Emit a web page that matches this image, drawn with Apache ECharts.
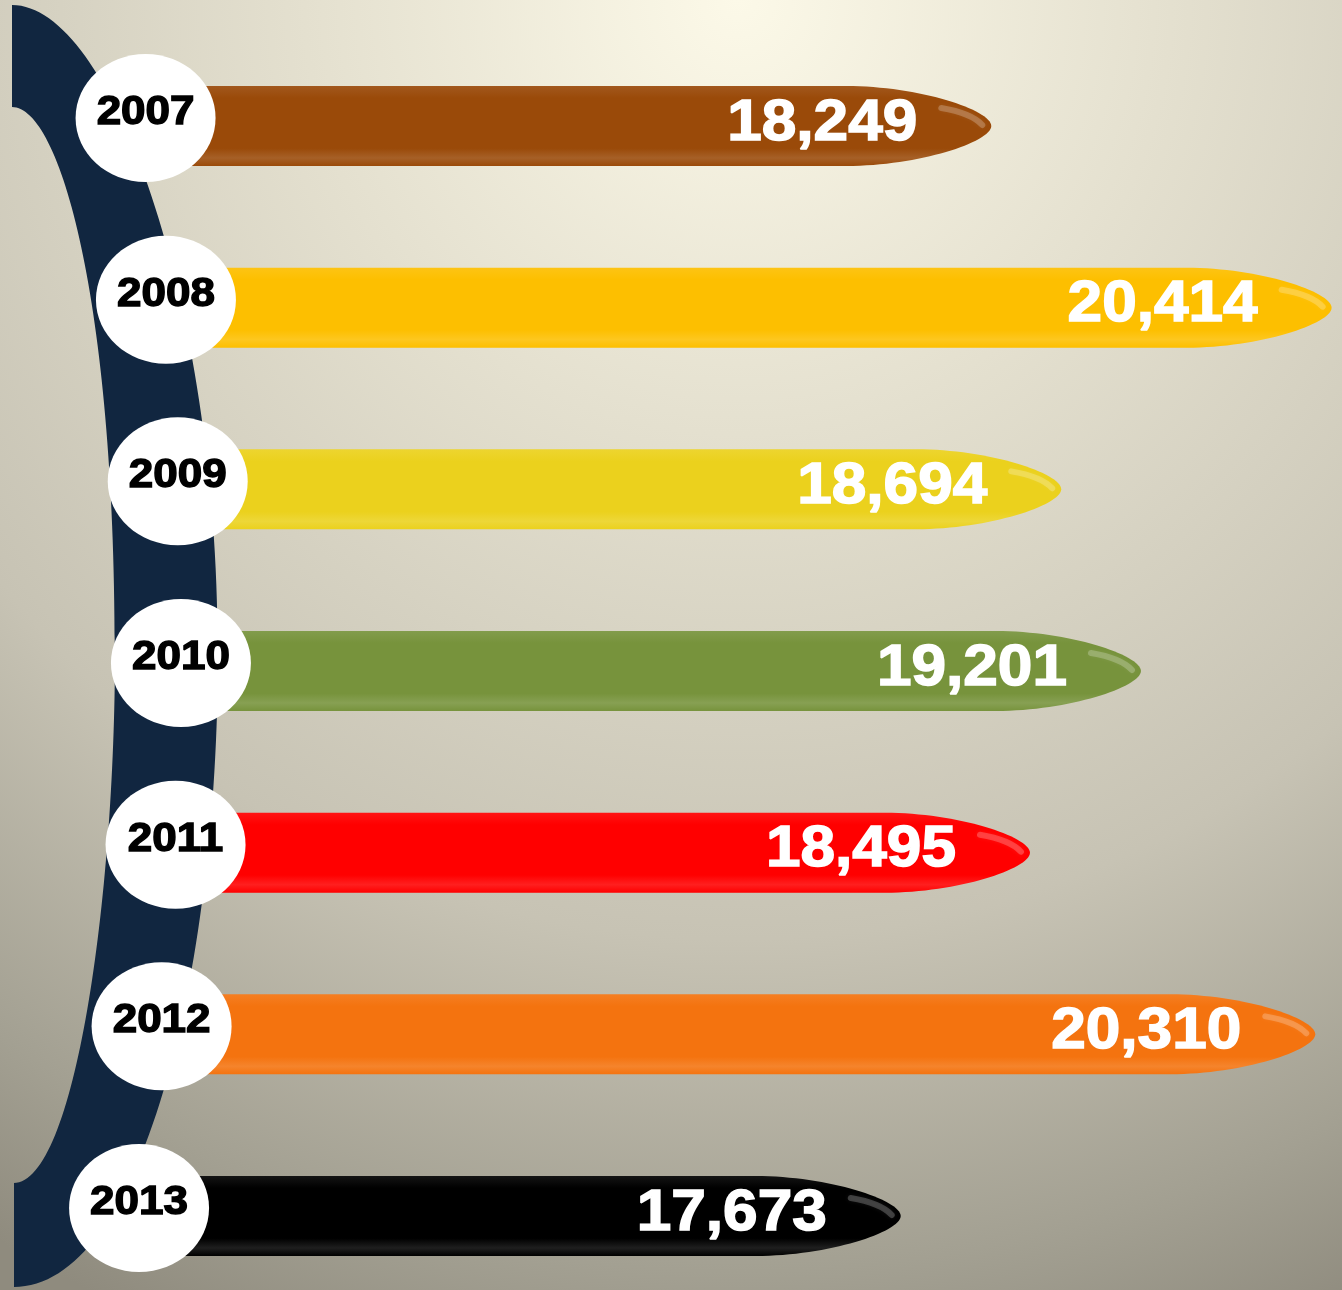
<!DOCTYPE html>
<html>
<head>
<meta charset="utf-8">
<script src="https://cdn.jsdelivr.net/npm/echarts@6/dist/echarts.min.js"></script>
<style>
    html, body { margin: 0; padding: 0; }
    #chart { width: 1342px; height: 1290px; }
</style>
</head>
<body>
<div id="chart"></div>
<script>
// 数据
const years = ['2007', '2008', '2009', '2010', '2011', '2012', '2013']
const values = [18249, 20414, 18694, 19201, 18495, 20310, 17673]
const barColors = ['#9a4a09', '#fdbf00', '#ebd11d', '#77933c', '#ff0000', '#f4730f', '#000000']

const xMin = 13120
const xMax = 20480

// 颜色和白色混合
function lighten(hex, k) {
    const n = parseInt(hex.slice(1), 16)
    const r = n >> 16, g = (n >> 8) & 255, b = n & 255
    const f = c => Math.round(c + (255 - c) * k)
    return 'rgb(' + f(r) + ',' + f(g) + ',' + f(b) + ')'
}

// 左边弧形的中线，年份圆圈沿着它排
function arcMidX(y) {
    return 181 - 0.00013 * (y - 640) * (y - 640)
}

// 子弹形的条
const BulletBar = echarts.graphic.extendShape({
    shape: {x0: 0, tip: 0, cy: 0, h: 0, taper: 145},
    buildPath(ctx, s) {
        const top = s.cy - s.h / 2
        const bot = s.cy + s.h / 2
        const t = Math.min(s.taper, s.tip - s.x0)
        ctx.moveTo(s.x0, top)
        ctx.lineTo(s.tip - t, top)
        ctx.bezierCurveTo(s.tip - t * 0.5, top, s.tip, s.cy - s.h * 0.2, s.tip, s.cy)
        ctx.bezierCurveTo(s.tip, s.cy + s.h * 0.2, s.tip - t * 0.5, bot, s.tip - t, bot)
        ctx.lineTo(s.x0, bot)
        ctx.closePath()
    }
})
echarts.graphic.registerShape('bulletBar', BulletBar)

// 左侧深蓝色弧形
const Crescent = echarts.graphic.extendShape({
    shape: {},
    buildPath(ctx) {
        ctx.moveTo(12, 5)
        ctx.bezierCurveTo(110, 5, 218, 300, 218, 650)
        ctx.bezierCurveTo(218, 980, 140, 1287, 14, 1287)
        ctx.lineTo(14, 1183)
        ctx.bezierCurveTo(75, 1183, 115, 900, 115, 650)
        ctx.bezierCurveTo(115, 300, 60, 107, 12, 107)
        ctx.closePath()
    }
})
echarts.graphic.registerShape('crescent', Crescent)

let chart = echarts.init(document.getElementById('chart'))

function renderBar(params, api) {
    const idx = api.value(1)
    const start = api.coord([xMin, idx])
    const end = api.coord([api.value(0), idx])
    const bandH = api.size([0, 1])[1]
    const h = bandH * 0.44
    const cy = start[1]
    const top = cy - h / 2
    const tip = end[0]
    const c = barColors[idx]
    const circleY = cy - 8
    const circleX = arcMidX(circleY)
    return {
        type: 'group',
        children: [
            {
                type: 'bulletBar',
                shape: {x0: start[0], tip: tip, cy: cy, h: h, taper: 145},
                style: {
                    fill: new echarts.graphic.LinearGradient(0, 0, 0, 1, [
                        {offset: 0, color: lighten(c, 0.08)},
                        {offset: 0.15, color: c},
                        {offset: 0.78, color: c},
                        {offset: 0.9, color: lighten(c, 0.12)},
                        {offset: 1, color: c}
                    ])
                }
            },
            // 尖头的高光
            {
                type: 'bezierCurve',
                shape: {
                    x1: tip - 50, y1: top + 22,
                    cpx1: tip - 20, cpy1: top + 27,
                    x2: tip - 9, y2: cy - 1
                },
                style: {
                    fill: null,
                    stroke: 'rgba(255,255,255,0.22)',
                    lineWidth: 6,
                    lineCap: 'round',
                    shadowBlur: 4,
                    shadowColor: 'rgba(255,255,255,0.3)'
                }
            },
            {
                type: 'text',
                x: tip - 74,
                y: cy - 2,
                scaleX: 1.09,
                style: {
                    text: values[idx].toLocaleString('en-US'),
                    fill: '#ffffff',
                    stroke: '#ffffff',
                    lineWidth: 1.5,
                    font: 'bold 57px "Liberation Sans", Arial, sans-serif',
                    align: 'right',
                    verticalAlign: 'middle'
                }
            },
            {
                type: 'ellipse',
                shape: {cx: circleX, cy: circleY, rx: 70, ry: 64},
                style: {fill: '#ffffff'}
            },
            {
                type: 'text',
                x: circleX,
                y: circleY - 5,
                scaleX: 1.1,
                style: {
                    text: years[idx],
                    fill: '#000000',
                    stroke: '#000000',
                    lineWidth: 1.4,
                    font: 'bold 40px "Liberation Sans", Arial, sans-serif',
                    align: 'center',
                    verticalAlign: 'middle'
                }
            }
        ]
    }
}

const option = {
    animation: false,
    backgroundColor: new echarts.graphic.RadialGradient(0.55, 0, 1.12, [
        {offset: 0, color: '#fcf9e8'},
        {offset: 0.3, color: '#e4e0cf'},
        {offset: 0.65, color: '#c7c3b4'},
        {offset: 0.88, color: '#a3a092'},
        {offset: 1, color: '#8f8b7e'}
    ]),
    grid: {
        left: 185,
        right: 0,
        top: 126,
        bottom: 74
    },
    xAxis: {
        type: 'value',
        min: xMin,
        max: xMax,
        show: false
    },
    yAxis: {
        type: 'category',
        data: years,
        inverse: true,
        boundaryGap: false,
        show: false
    },
    graphic: [
        {
            type: 'crescent',
            z: 0,
            silent: true,
            shape: {},
            style: {fill: '#112640'}
        }
    ],
    series: [
        {
            type: 'custom',
            z: 5,
            renderItem: renderBar,
            data: values.map((v, i) => [v, i]),
            encode: {x: 0, y: 1}
        }
    ]
}
chart.setOption(option)
</script>
</body>
</html>
